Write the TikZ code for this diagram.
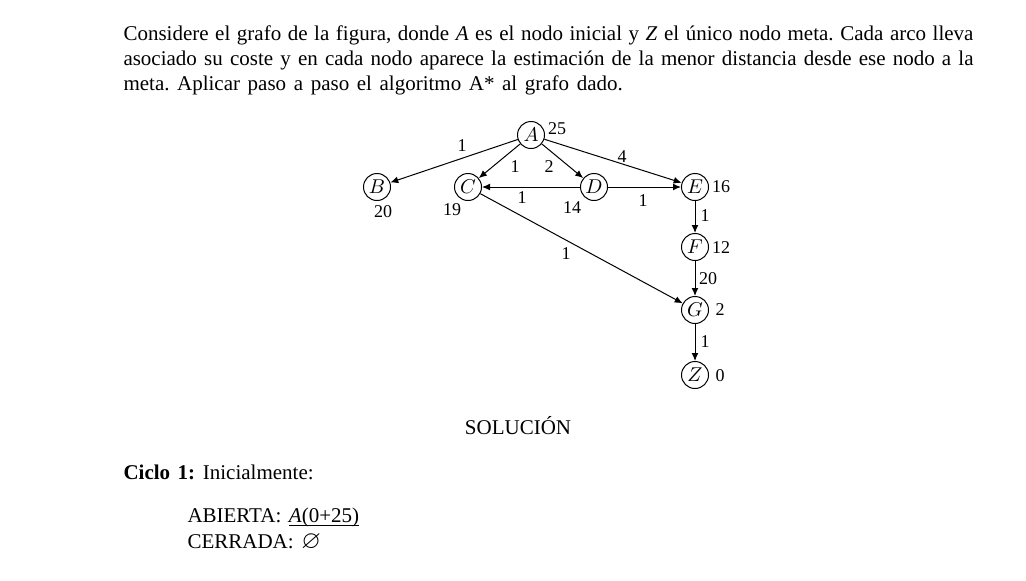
\documentclass[tikz,border=0pt]{standalone}
\usepackage{amssymb}
\usepackage{graphicx}
\usepackage{fontspec}
\setmainfont{Liberation Serif}
\usetikzlibrary{arrows.meta}
\newcommand\letratexto{\fontsize{10.5}{12.5}\selectfont\frenchspacing\spaceskip=3.8pt plus 1pt minus 1pt\relax}
\tikzset{
  estado/.style={circle,draw,minimum size=13.5pt,inner sep=0pt,font=\fontsize{10}{12}\selectfont},
  coste/.style={inner sep=0pt,font=\fontsize{9}{11}\selectfont},
  linea/.style={anchor=base west,inner sep=0pt,font=\letratexto}
}
\begin{document}
\begin{tikzpicture}[x=0.5pt,y=-0.5pt,line width=0.5pt,>={Latex[length=4pt,width=3.4pt]}]
\useasboundingbox (0,0) rectangle (1026,580);
% enunciado
\node[linea] (l1) at (123,40) {\makebox[425pt][s]{Considere el grafo de la figura, donde \textit{A} es el nodo inicial y \textit{Z} el único nodo meta. Cada arco lleva}};
\node[linea] (l2) at (123,65) {\makebox[425pt][s]{asociado su coste y en cada nodo aparece la estimación de la menor distancia desde ese nodo a la}};
\node[linea] (l3) at (123,90) {meta. Aplicar paso a paso el algoritmo A* al grafo dado.};
% grafo
\node[estado] (A) at (531,135) {$A$};
\node[estado] (B) at (377,187) {$B$};
\node[estado] (C) at (468,187) {$C$};
\node[estado] (D) at (594,187) {$D$};
\node[estado] (E) at (695,187) {$E$};
\node[estado] (F) at (695,247) {$F$};
\node[estado] (G) at (695,310) {$G$};
\node[estado] (Z) at (695,375) {$Z$};
\draw[->] (A)--(B);
\draw[->] (A)--(C);
\draw[->] (A)--(D);
\draw[->] (A)--(E);
\draw[->] (D)--(C);
\draw[->] (D)--(E);
\draw[->] (E)--(F);
\draw[->] (F)--(G);
\draw[->] (C)--(G);
\draw[->] (G)--(Z);
% estimaciones
\node[coste] (hA) at (557,129) {25};
\node[coste] (hB) at (383,212) {20};
\node[coste] (hC) at (452,210) {19};
\node[coste] (hD) at (572,208) {14};
\node[coste] (hE) at (721,187) {16};
\node[coste] (hF) at (721,248) {12};
\node[coste] (hG) at (720,310) {2};
\node[coste] (hZ) at (720,376) {0};
% costes de los arcos
\node[coste] (cAB) at (462,146) {1};
\node[coste] (cAC) at (515,167) {1};
\node[coste] (cAD) at (549,167) {2};
\node[coste] (cAE) at (622,157) {4};
\node[coste] (cDC) at (522,198) {1};
\node[coste] (cDE) at (643,201) {1};
\node[coste] (cEF) at (705,216) {1};
\node[coste] (cCG) at (566,254) {1};
\node[coste] (cFG) at (708,279) {20};
\node[coste] (cGZ) at (705,342) {1};
% solucion
\node[linea,anchor=base] (sol) at (518,434) {SOLUCIÓN};
\node[linea] (ciclo) at (123,479) {\textbf{Ciclo 1:} Inicialmente:};
\node[linea] (abierta) at (187,522) {ABIERTA: \underline{\smash{\textit{A}(0+25)}}};
\node[linea] (cerrada) at (187,548) {CERRADA: \smash{\scalebox{1.2}{$\varnothing$}}};
\end{tikzpicture}
\end{document}
